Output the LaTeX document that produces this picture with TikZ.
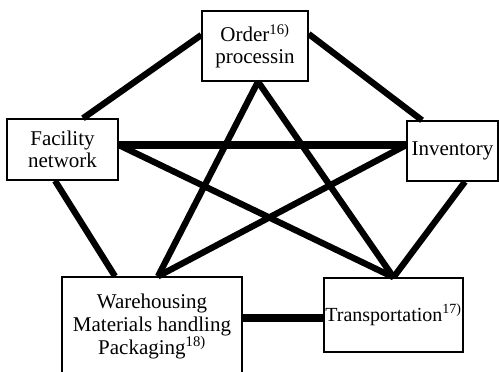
\documentclass[tikz,border=0pt]{standalone}
\usepackage{fontspec}
\setmainfont{Liberation Serif}
\usetikzlibrary{calc}
\begin{document}
\begin{tikzpicture}[x=1pt,y=-1pt,
  box/.style={draw=black,line width=1.4pt,fill=white,inner sep=0pt,align=center,
    font=\fontsize{21}{21.5}\selectfont},
  link/.style={line width=6.3pt},
  bar/.style={line width=7.5pt}]
\useasboundingbox (0,0) rectangle (499,372);
% logistics activities
\node[box,minimum width=106pt,minimum height=70pt] (ord) at (255,46)
  {Order\textsuperscript{16)}\\processin};
\node[box,minimum width=111pt,minimum height=61pt] (fac) at (62.5,149.5)
  {Facility\\network};
\node[box,minimum width=91pt,minimum height=60pt] (inv) at (452.5,151)
  {Inventory};
\node[box,minimum width=180pt,minimum height=99pt,
  font=\fontsize{21}{23}\selectfont] (war) at (152,326.5)
  {Warehousing\\Materials handling\\Packaging\textsuperscript{18)}};
\node[box,minimum width=139pt,minimum height=74pt,
  font=\fontsize{20}{21.5}\selectfont] (tra) at (393.5,315)
  {Transportation\textsuperscript{17)}};
% outer ring
\draw[link] ($(ord.west)+(0,-11)$) -- ($(fac.north)+(20.5,0)$);
\draw[link] ($(ord.east)+(0,-12)$) -- ($(inv.north)+(-30.5,0)$);
\draw[link] ($(fac.south)+(-7.5,0)$) -- ($(war.north)+(-37,0)$);
\draw[link] ($(inv.south)+(12.5,0)$) -- (tra.north);
\draw[bar] ($(war.east)+(0,-8.5)$) -- ($(tra.west)+(0,3)$);
% inner star
\draw[link] ($(ord.south)+(3,0)$) -- ($(war.north)+(6,0)$);
\draw[link] ($(ord.south)+(3,0)$) -- (tra.north);
\draw[bar] ($(fac.east)+(0,-4.5)$) -- ($(inv.west)+(0,-6)$);
\draw[link] ($(fac.east)+(0,-4.5)$) -- (tra.north);
\draw[link] ($(inv.west)+(0,-6)$) -- ($(war.north)+(6,0)$);
\end{tikzpicture}
\end{document}
